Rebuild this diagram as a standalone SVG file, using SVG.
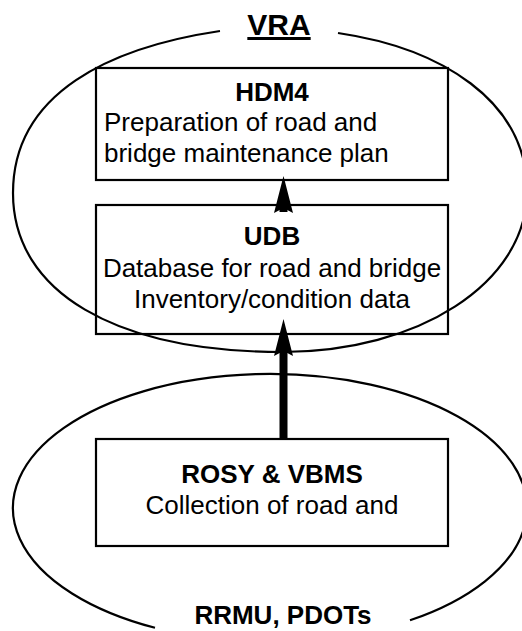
<svg xmlns="http://www.w3.org/2000/svg" width="522" height="631" viewBox="0 0 522 631">
<style>
.bg{fill:#ffffff}
.outline{fill:none;stroke:#000000;stroke-width:2.2}
.box{fill:none;stroke:#000000;stroke-width:2.2}
.t{font-family:"Liberation Sans",Arial,sans-serif;font-size:26px;fill:#000000}
.b{font-weight:bold}
.mid{text-anchor:middle}
.conn{stroke:#000000;stroke-width:8;fill:none}
</style>
<defs>
<marker id="head" markerUnits="userSpaceOnUse" markerWidth="38" markerHeight="20" refX="5" refY="10" orient="auto">
<path d="M37,10 L0,0.5 L5,10 L0,19.5 Z" fill="#000000"/>
</marker>
</defs>
<rect class="bg" x="0" y="0" width="522" height="631"/>
<g id="vra">
<path class="outline" d="M338,33 C440,48 527,100 527,191 C527,284 417,352 283,352 C115,352 13,292 13,193 C13,92 112,47 220,31"/>
<text class="t b mid" x="279" y="35" font-size="30" style="font-size:30px" text-decoration="underline">VRA</text>
</g>
<g id="rrmu">
<path class="outline" d="M155,627.8 A257 134 0 1 1 410,620.3"/>
<text class="t b mid" x="283" y="624">RRMU, PDOTs</text>
</g>
<g id="hdm4">
<rect class="box" x="96" y="68" width="352" height="112"/>
<text class="t b mid" x="272" y="101">HDM4</text>
<text class="t" x="104" y="131">Preparation of road and</text>
<text class="t" x="104" y="162">bridge maintenance plan</text>
</g>
<g id="udb">
<rect class="box" x="96" y="205" width="352" height="129"/>
<text class="t b mid" x="272" y="245">UDB</text>
<text class="t mid" x="272" y="277">Database for road and bridge</text>
<text class="t mid" x="272" y="308">Inventory/condition data</text>
</g>
<g id="rosy">
<rect class="box" x="96" y="439" width="352" height="107"/>
<text class="t b mid" x="272" y="483">ROSY &amp; VBMS</text>
<text class="t mid" x="272" y="514">Collection of road and</text>
</g>
<g id="connectors">
<line class="conn" x1="283.5" y1="212" x2="283.5" y2="208" marker-end="url(#head)"/>
<line class="conn" x1="283.5" y1="439" x2="283.5" y2="351" marker-end="url(#head)"/>
</g>
</svg>
